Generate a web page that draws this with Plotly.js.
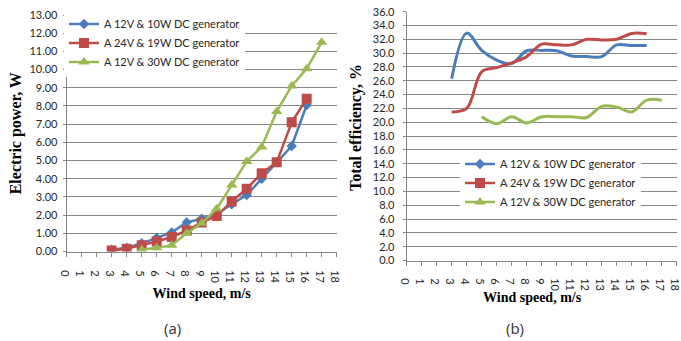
<!DOCTYPE html>
<html>
<head>
<meta charset="utf-8">
<script src="https://cdn.plot.ly/plotly-3.0.1.min.js"></script>
<style>html,body{margin:0;padding:0;background:#fff;}#chart{width:681px;height:341px;}</style>
</head>
<body>
<div id="chart"></div>
<script>
// Wind speed (m/s)
const speed10W = [3,4,5,6,7,8,9,10,11,12,13,14,15,16];
const speed19W = [3,4,5,6,7,8,9,10,11,12,13,14,15,16];
const speed30W = [5,6,7,8,9,10,11,12,13,14,15,16,17];
// Electric power (W)
const power10W = [0.1,0.2,0.45,0.75,1.05,1.6,1.8,2.05,2.6,3.1,4.0,4.9,5.8,8.05];
const power19W = [0.05,0.15,0.35,0.55,0.8,1.15,1.6,1.95,2.75,3.45,4.3,4.9,7.1,8.4];
const power30W = [0.1,0.2,0.35,1.0,1.55,2.35,3.65,4.95,5.75,7.7,9.1,10.05,11.5];
// Total efficiency (%)
const eff10W = [26.3,32.9,30.4,29.0,28.5,30.35,30.4,30.35,29.6,29.5,29.5,31.2,31.1,31.1];
const eff19W = [21.5,22.0,27.3,27.9,28.6,29.5,31.3,31.2,31.2,32.0,31.9,32.0,32.85,32.8];
const eff30W = [20.8,19.8,20.8,19.9,20.8,20.8,20.8,20.7,22.3,22.2,21.5,23.2,23.2];
// Tick labels
const speedTicks = [0,1,2,3,4,5,6,7,8,9,10,11,12,13,14,15,16,17,18];
// Labels
const seriesNames = ['A 12V &amp; 10W DC generator','A 24V &amp; 19W DC generator','A 12V &amp; 30W DC generator'];
const xTitle = 'Wind speed, m/s';
const yTitleA = 'Electric power, W';
const yTitleB = 'Total efficiency, %';
const seriesColors = ['#4A7EBB','#BE4B48','#98B954'];
const seriesSymbols = ['diamond','square','triangle-up'];
const markerSizes = [8,10,10];

const W = 681, H = 341;
const px = v => v / W;
const py = v => (H - v) / H;

const traces = [];
const powerX = [speed10W, speed19W, speed30W];
const powerY = [power10W, power19W, power30W];
const effY = [eff10W, eff19W, eff30W];
for (let i = 0; i < 3; i++) {
  traces.push({
    x: powerX[i], y: powerY[i], xaxis: 'x', yaxis: 'y',
    type: 'scatter', mode: 'lines+markers', name: seriesNames[i], legend: 'legend',
    line: {color: seriesColors[i], width: 2.5},
    marker: {symbol: seriesSymbols[i], size: markerSizes[i], color: seriesColors[i]}
  });
}
for (let i = 0; i < 3; i++) {
  traces.push({
    x: powerX[i], y: effY[i], xaxis: 'x2', yaxis: 'y2',
    type: 'scatter', mode: 'lines', name: seriesNames[i], showlegend: false,
    line: {color: seriesColors[i], width: 3, shape: 'spline', smoothing: 1}
  });
}
// legend entries for right chart (Excel-style with markers)
for (let i = 0; i < 3; i++) {
  traces.push({
    x: [null], y: [null], xaxis: 'x2', yaxis: 'y2',
    type: 'scatter', mode: 'lines+markers', name: seriesNames[i], legend: 'legend2',
    line: {color: seriesColors[i], width: 2.5},
    marker: {symbol: seriesSymbols[i], size: markerSizes[i], color: seriesColors[i]}
  });
}

const axisGray = '#868686';
const tickFont = {family: 'Lato, sans-serif', size: 11, color: '#262626'};
const xTitleFont = {family: 'Liberation Serif, serif', size: 14, color: '#000'};
const yTitleFont = {family: 'Liberation Serif, serif', size: 16, color: '#000'};

function xAxis(domain, anchor, labelGap, title) {
  return {
    domain: domain, anchor: anchor, range: [0, 18], tickmode: 'array',
    tickvals: speedTicks, ticktext: speedTicks.map(String),
    ticks: 'outside', ticklen: 4, tickcolor: axisGray, showline: true, linecolor: axisGray,
    showgrid: false, zeroline: false, tickfont: tickFont, ticklabelstandoff: labelGap,
    ticklabeloverflow: 'allow',
    title: title
  };
}
function yAxis(domain, anchor, range, dtick, fmt, labelGap, title) {
  return {
    domain: domain, anchor: anchor, range: range, tickmode: 'linear', tick0: 0, dtick: dtick,
    tickformat: fmt, ticks: 'outside', ticklen: 3, tickcolor: axisGray, showline: true,
    linecolor: axisGray, showgrid: true, gridcolor: axisGray, gridwidth: 1, zeroline: false,
    tickfont: tickFont, ticklabelstandoff: labelGap,
    title: title
  };
}

const layout = {
  width: W, height: H,
  margin: {l: 0, r: 0, t: 0, b: 0},
  paper_bgcolor: '#fff', plot_bgcolor: '#fff',
  xaxis: xAxis([px(66.7), px(336.7)], 'y', 6, {text: '<b>' + xTitle + '</b>', font: xTitleFont, standoff: 5}),
  yaxis: yAxis([py(251.5), py(15)], 'x', [0, 13], 1, '.2f', 3, {text: '<b>' + yTitleA + '</b>', font: yTitleFont, standoff: 3}),
  xaxis2: xAxis([px(406.7), px(676.7)], 'y2', 5, {text: ''}),
  yaxis2: yAxis([py(260.5), py(11.7)], 'x2', [0, 36], 2, '.1f', 6, {text: ''}),
  legend: {
    x: px(64), y: py(43), xanchor: 'left', yanchor: 'middle',
    bgcolor: '#fff', borderwidth: 0, font: {family: 'Lato, sans-serif', size: 11, color: '#262626'},
    tracegroupgap: 0
  },
  legend2: {
    x: px(460), y: py(183), xanchor: 'left', yanchor: 'middle',
    bgcolor: '#fff', borderwidth: 0, font: {family: 'Lato, sans-serif', size: 11, color: '#262626'},
    tracegroupgap: 0
  },
  annotations: [
    {text: '<b>' + xTitle + '</b>', x: px(532), y: py(297), xref: 'paper', yref: 'paper', showarrow: false,
     xanchor: 'center', yanchor: 'middle', font: xTitleFont},
    {text: '<b>' + yTitleB + '</b>', x: px(356), y: py(127), xref: 'paper', yref: 'paper', showarrow: false,
     xanchor: 'center', yanchor: 'middle', textangle: -90, font: yTitleFont},
    {text: '(a)', x: px(173), y: py(328), xref: 'paper', yref: 'paper', showarrow: false,
     xanchor: 'center', yanchor: 'middle', font: {family: 'Open Sans, sans-serif', size: 15, color: '#333'}},
    {text: '(b)', x: px(515), y: py(328), xref: 'paper', yref: 'paper', showarrow: false,
     xanchor: 'center', yanchor: 'middle', font: {family: 'Open Sans, sans-serif', size: 15, color: '#333'}}
  ],
  showlegend: true
};

Plotly.newPlot('chart', traces, layout, {displayModeBar: false, staticPlot: true});
</script>
</body>
</html>
